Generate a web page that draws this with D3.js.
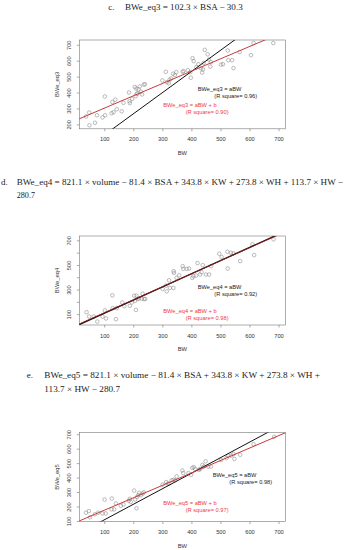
<!DOCTYPE html>
<html><head><meta charset="utf-8">
<script src="https://cdn.jsdelivr.net/npm/d3@7"></script>
<style>
html,body{margin:0;padding:0;background:#fff;}
svg{display:block;}
</style></head>
<body>
<svg id="c" width="353" height="550"></svg>
<script>
// ---------- data ----------
const xTicks = [100, 200, 300, 400, 500, 600, 700];
const yTicks3 = [200, 300, 400, 500, 600, 700];
const yTicks4 = [100, 200, 300, 400, 500, 600, 700];
const yLabels4 = [100, 300, 500, 700];
const yTicks5 = [100, 200, 300, 400, 500, 600, 700];

const bw3 = [37,48,49,68,75,94,102,103,125,128,132,138,143,160,166,185,187,188,196,205,208,210,212,215,218,222,226,230,236,240,300,312,316,322,325,330,337,343,348,370,373,388,396,398,404,408,417,424,433,437,440,442,446,456,460,465,467,502,509,525,527,540,545,566,605,614,682];
const eq3 = [249,274,194,210,257,244,375,257,270,340,276,355,295,282,335,400,345,333,360,435,377,425,392,395,420,438,405,388,450,452,476,530,465,458,480,488,518,510,528,530,535,540,528,493,616,597,559,578,552,525,545,586,668,640,607,563,591,575,578,664,603,603,553,654,635,711,711];

const bw4 = [39,48,64,76,94,102,106,128,129,140,143,162,169,188,195,203,206,209,211,215,219,229,232,237,241,301,313,315,323,326,338,339,340,349,358,370,372,384,392,403,407,416,421,430,435,439,450,461,468,496,504,524,525,536,545,568,610,616,683];
const eq4 = [116,81,81,40,81,130,65,253,149,59,149,195,165,168,195,250,209,135,250,223,228,225,266,223,223,305,332,285,375,313,313,449,435,395,416,490,468,468,471,395,408,414,515,422,441,498,422,422,490,591,564,607,471,599,594,531,667,580,708];

const bw5 = [37,47,51,68,79,94,101,105,125,126,134,140,157,166,184,188,191,203,206,211,213,217,220,226,232,236,301,313,318,323,332,338,344,349,369,372,390,399,403,408,413,426,430,438,443,449,458,467,502,521,527,537,545,548,568,614,685];
const eq5 = [157,168,125,146,157,152,248,152,180,255,180,221,205,214,239,253,232,310,248,187,266,278,294,278,289,298,351,369,358,358,381,385,381,408,449,431,431,419,467,472,460,453,460,488,476,513,476,476,522,536,552,552,563,529,558,631,682];

const titleC = ["c.", "BWe_eq3 = 102.3 × BSA − 30.3"];
const titleD = ["d.", "BWe_eq4 = 821.1 × volume − 81.4 × BSA + 343.8 × KW + 273.8 × WH + 113.7 × HW −", "280.7"];
const titleE = ["e.", "BWe_eq5 = 821.1 × volume − 81.4 × BSA + 343.8 × KW + 273.8 × WH +", "113.7 × HW − 280.7"];

const fits = [
  {name:"BWe_eq3", a:1.33, slope:0.775, b:224, r2a:"0.96", r2b:"0.90"},
  {name:"BWe_eq4", a:1.07, slope:1.055, b:6, r2a:"0.92", r2b:"0.98"},
  {name:"BWe_eq5", a:1.075, slope:0.86, b:88, r2a:"0.98", r2b:"0.97"}
];

// ---------- drawing ----------
const svg = d3.select("#c");
const serif = "'Liberation Serif','Times New Roman',serif";
const sans = "'Liberation Sans',Arial,sans-serif";

function line(x, y, txt, len){
  svg.append("text").attr("x", x).attr("y", y)
    .attr("font-family", serif).attr("font-size", 9).attr("fill", "#1a1a1a")
    .attr("textLength", len).attr("lengthAdjust", "spacingAndGlyphs")
    .text(txt);
}
function lbl(x, y, txt){
  svg.append("text").attr("x", x).attr("y", y).attr("font-family", serif)
    .attr("font-size", 9).attr("fill", "#1a1a1a").text(txt);
}
// titles
lbl(108.3, 9.5, titleC[0]);
line(125, 9.5, titleC[1], 117.7);
lbl(1, 185, titleD[0]);
line(16.7, 185, titleD[1], 326.3);
line(16.7, 197.5, titleD[2], 18.3);
lbl(26.7, 378, titleE[0]);
line(44.3, 378, titleE[1], 275.7);
line(44.3, 391.5, titleE[2], 75.7);

const panels = [
  {bw:bw3, y:eq3, ticks:yTicks3, labels:yTicks3, top:40, bottom:128.8, ydom:[172,730], fit:fits[0],
   tA:[197.7,89.3], tA2:[214.3,96.3], tB:[163.3,105.3], tB2:[185.7,112]},
  {bw:bw4, y:eq4, ticks:yTicks4, labels:yLabels4, top:236, bottom:325, ydom:[12,735], fit:fits[1],
   tA:[197.7,286.7], tA2:[214.3,294], tB:[163.3,310.7], tB2:[185.7,318.3]},
  {bw:bw5, y:eq5, ticks:yTicks5, labels:yTicks5, top:432.5, bottom:521.5, ydom:[96,712], fit:fits[2],
   tA:[212.7,475], tA2:[229.3,481.7], tB:[163.3,503.3], tB2:[185.7,510]}
];
const L = 79.3, R = 285.5;

panels.forEach((p, i) => {
  const x = d3.scaleLinear().domain([14, 724]).range([L, R]);
  const y = d3.scaleLinear().domain(p.ydom).range([p.bottom, p.top]);
  const g = svg.append("g");
  const cid = "clip" + i;
  svg.append("clipPath").attr("id", cid).append("rect")
    .attr("x", L).attr("y", p.top).attr("width", R - L).attr("height", p.bottom - p.top);

  // x axis
  const xa = g.append("g").attr("transform", `translate(0,${p.bottom})`)
    .call(d3.axisBottom(x).tickValues(xTicks).tickSize(2.5).tickPadding(6).tickFormat(d3.format("d")));
  xa.select(".domain").remove();
  xa.selectAll("line").attr("stroke", "#555").attr("stroke-width", 0.5);
  xa.selectAll("text").attr("font-family", sans).attr("font-size", 5.7).attr("fill", "#333");

  // y axis
  const ya = g.append("g").attr("transform", `translate(${L},0)`)
    .call(d3.axisLeft(y).tickValues(p.ticks).tickSize(2.5).tickFormat(d => p.labels.includes(d) ? d : ""));
  ya.select(".domain").remove();
  ya.selectAll("line").attr("stroke", "#555").attr("stroke-width", 0.5);
  ya.selectAll("text").attr("font-family", sans).attr("font-size", 5.7).attr("fill", "#333")
    .attr("x", 0).attr("dy", 0).attr("text-anchor", "middle")
    .attr("transform", "translate(-8.3,0) rotate(-90)");

  // box
  g.append("rect").attr("x", L).attr("y", p.top).attr("width", R - L).attr("height", p.bottom - p.top)
    .attr("fill", "none").attr("stroke", "#777").attr("stroke-width", 0.6);

  // axis titles
  g.append("text").attr("x", (L + R) / 2).attr("y", p.bottom + 26).attr("text-anchor", "middle")
    .attr("font-family", sans).attr("font-size", 5.8).attr("fill", "#333").text("BW");
  g.append("text").attr("transform", `translate(59,${(p.top + p.bottom) / 2}) rotate(-90)`)
    .attr("text-anchor", "middle").attr("font-family", sans).attr("font-size", 5.8).attr("fill", "#333")
    .text(p.fit.name);

  // points
  g.append("g").selectAll("circle").data(p.bw).join("circle")
    .attr("cx", d => x(d)).attr("cy", (d, k) => y(p.y[k])).attr("r", 1.8)
    .attr("fill", "none").attr("stroke", "#858585").attr("stroke-width", 0.55);

  // regression lines
  const lg = g.append("g").attr("clip-path", `url(#${cid})`);
  const xs = [0, 800];
  lg.append("line").attr("x1", x(xs[0])).attr("y1", y(p.fit.a * xs[0]))
    .attr("x2", x(xs[1])).attr("y2", y(p.fit.a * xs[1]))
    .attr("stroke", "#111").attr("stroke-width", i === 1 ? 1.3 : 1);
  lg.append("line").attr("x1", x(xs[0])).attr("y1", y(p.fit.slope * xs[0] + p.fit.b))
    .attr("x2", x(xs[1])).attr("y2", y(p.fit.slope * xs[1] + p.fit.b))
    .attr("stroke", i === 1 ? "#9b1c1c" : "#c83a3a").attr("stroke-width", i === 1 ? 0.9 : 1);

  // annotations
  const ann = (pos, txt, col) => g.append("text").attr("x", pos[0]).attr("y", pos[1] + 2)
    .attr("font-family", sans).attr("font-size", 5.7).attr("fill", col).text(txt);
  ann(p.tA, p.fit.name + " = aBW", "#222");
  ann(p.tA2, "(R square= " + p.fit.r2a + ")", "#222");
  ann(p.tB, p.fit.name + " = aBW + b", "#f03a3a");
  ann(p.tB2, "(R square= " + p.fit.r2b + ")", "#f03a3a");
});
</script>
</body></html>
